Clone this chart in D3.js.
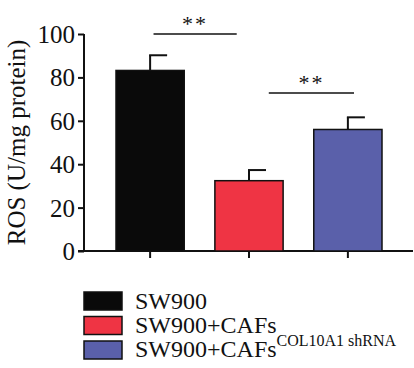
<!DOCTYPE html>
<html><head><meta charset="utf-8">
<script src="https://cdn.jsdelivr.net/npm/d3@7"></script>
<style>body{margin:0;background:#fff}svg{display:block}text{font-family:"Liberation Serif","Times New Roman",serif;fill:#111}</style>
</head><body>
<script>
const categories = ["SW900", "SW900+CAFs", "SW900+CAFs COL10A1 shRNA"];
const values = [83.2, 32.4, 56.0];
const errors = [7.0, 4.9, 5.6];
const colors = ["#0a0a0a", "#ef3444", "#5a60aa"];
const yTicks = [0, 20, 40, 60, 80, 100];
const sigPairs = [[0, 1, 100, "**"], [1, 2, 72.8, "**"]];

const W = 414, H = 368;
const svg = d3.select("body").append("svg").attr("width", W).attr("height", H);
const x = d3.scaleBand().domain(d3.range(categories.length)).range([116, 382]).paddingInner(0.31).paddingOuter(0);
const y = d3.scaleLinear().domain([0, 100]).range([251, 34]);
const bw = x.bandwidth();
const cx = i => x(i) + bw / 2;

// y axis
const yAxis = svg.append("g").attr("transform", "translate(84,0)")
  .call(d3.axisLeft(y).tickValues(yTicks).tickSize(6).tickPadding(3));
yAxis.select(".domain").attr("stroke", "#111").attr("stroke-width", 2).attr("d", `M0,${y(100)}V${y(0)}`);
yAxis.selectAll(".tick line").attr("stroke", "#111").attr("stroke-width", 2);
yAxis.selectAll(".tick text").style("font-size", "25px").attr("fill", "#111").attr("dy", "0.34em");

// x axis
svg.append("line").attr("x1", 78).attr("x2", 413).attr("y1", y(0)).attr("y2", y(0)).attr("stroke", "#111").attr("stroke-width", 2);
svg.selectAll(".xt").data(categories).enter().append("line")
  .attr("x1", (d, i) => cx(i)).attr("x2", (d, i) => cx(i))
  .attr("y1", y(0)).attr("y2", y(0) + 7).attr("stroke", "#111").attr("stroke-width", 2);

// y label
svg.append("text").attr("transform", `translate(25,${(y(0) + y(100)) / 2}) rotate(-90)`)
  .attr("text-anchor", "middle").style("font-size", "25px").text("ROS (U/mg protein)");

// error bars (half caps to the right)
const eb = svg.selectAll(".eb").data(values).enter().append("g");
eb.append("line").attr("x1", (d, i) => cx(i)).attr("x2", (d, i) => cx(i))
  .attr("y1", d => y(d)).attr("y2", (d, i) => y(d + errors[i])).attr("stroke", "#111").attr("stroke-width", 2);
eb.append("line").attr("x1", (d, i) => cx(i) - 1).attr("x2", (d, i) => cx(i) + 17)
  .attr("y1", (d, i) => y(d + errors[i])).attr("y2", (d, i) => y(d + errors[i])).attr("stroke", "#111").attr("stroke-width", 2);

// bars
svg.selectAll(".bar").data(values).enter().append("rect")
  .attr("x", (d, i) => x(i)).attr("width", bw)
  .attr("y", d => y(d)).attr("height", d => y(0) - y(d))
  .attr("fill", (d, i) => colors[i]).attr("stroke", "#111").attr("stroke-width", 1.5);

// significance
const sigOffsets = [[0.55, 0.32], [0.79, 0.59]];
sigPairs.forEach(([a, b, v, s], k) => {
  const x1 = x(a) + bw * sigOffsets[k][0], x2 = x(b) + bw * sigOffsets[k][1];
  svg.append("line").attr("x1", x1).attr("x2", x2).attr("y1", y(v)).attr("y2", y(v)).attr("stroke", "#111").attr("stroke-width", 1.5);
  svg.append("text").attr("x", (x1 + x2) / 2).attr("y", y(v) - 3).attr("text-anchor", "middle")
    .style("font-size", "22px").style("letter-spacing", "2px").attr("fill", "#444").text(s);
});

// legend
const lg = svg.append("g");
[0, 1, 2].forEach(i => {
  const cy = 301 + i * 24.5;
  lg.append("rect").attr("x", 84).attr("y", cy - 9).attr("width", 38).attr("height", 18)
    .attr("fill", colors[i]).attr("stroke", "#111").attr("stroke-width", 1.5);
});
lg.append("text").attr("x", 135).attr("y", 309).style("font-size", "24px").text("SW900");
lg.append("text").attr("x", 135).attr("y", 333).style("font-size", "24px").text("SW900+CAFs");
const t3 = lg.append("text").attr("x", 135).attr("y", 357).style("font-size", "24px");
t3.append("tspan").text("SW900+CAFs");
t3.append("tspan").attr("dy", -11).style("font-size", "16px").text("COL10A1 shRNA");
</script>
</body></html>
